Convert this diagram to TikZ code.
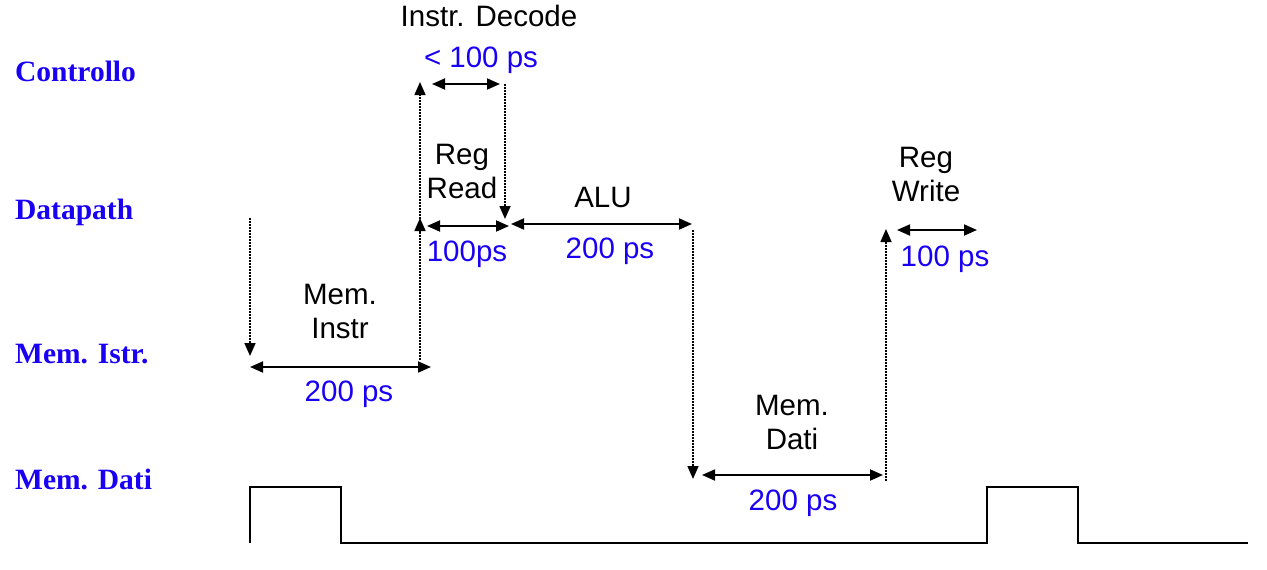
\documentclass[tikz,border=0pt]{standalone}
\usepackage{fontspec}
\setmainfont{Liberation Sans}
\newfontfamily\serifbf{Liberation Serif}
\usetikzlibrary{arrows.meta}
\definecolor{blueT}{RGB}{25,0,245}
\begin{document}
\begin{tikzpicture}[x=1pt,y=-1pt,
  lane/.style={anchor=west,inner sep=0pt,text=blueT,font=\serifbf\bfseries\fontsize{29.5}{34}\selectfont},
  lbl/.style={inner sep=0pt,align=center,font=\fontsize{29.5}{34}\selectfont},
  val/.style={lbl,text=blueT},
  dur/.style={{Triangle[length=13pt,width=11pt]}-{Triangle[length=13pt,width=11pt]},line width=1.8pt},
  guide/.style={-{Triangle[length=13pt,width=11pt]},line width=1.6pt,dash pattern=on 1.6pt off 1.4pt},
  wave/.style={line width=1.6pt}]
\useasboundingbox (0,0) rectangle (1267,570);
% lane labels
\node[lane] (lc) at (15,71) {Controllo};
\node[lane] (ld) at (15,212) {Datapath};
\node[lane] (li) at (15,354) {Mem. Istr.};
\node[lane] (lm) at (15,479) {Mem. Dati};
% coordinates
\coordinate (mi0) at (250,218);
\coordinate (mi1) at (250,356);
\coordinate (ia) at (250,367);
\coordinate (ib) at (431,367);
\coordinate (u0) at (420,360);
\coordinate (u1) at (420,82);
\coordinate (u2) at (420,218);
\coordinate (ca) at (432,84);
\coordinate (cb) at (500,84);
\coordinate (d0) at (505,84);
\coordinate (d1) at (505,219);
\coordinate (ra) at (427,226);
\coordinate (rb) at (509,226);
\coordinate (aa) at (511,224);
\coordinate (ab) at (692,224);
\coordinate (e0) at (693,230);
\coordinate (e1) at (693,479);
\coordinate (ma) at (702,475);
\coordinate (mb) at (883,475);
\coordinate (f0) at (886,481);
\coordinate (f1) at (886,229);
\coordinate (wa) at (897,230);
\coordinate (wb) at (977,230);
% texts
\node[lbl] (tdec) at (489,16) {Instr. Decode};
\node[val] (tdecv) at (481,60) {< 100 ps};
\node[lbl] (trr) at (462,171) {Reg\\Read};
\node[val] (trrv) at (467,254) {100ps};
\node[lbl] (talu) at (603,197) {ALU};
\node[val] (taluv) at (610,251) {200 ps};
\node[lbl] (tmi) at (340,311) {Mem.\\Instr};
\node[val] (tmiv) at (349,394) {200 ps};
\node[lbl] (tmd) at (792,422) {Mem.\\Dati};
\node[val] (tmdv) at (793,503) {200 ps};
\node[lbl] (trw) at (926,174) {Reg\\Write};
\node[val] (trwv) at (945,259) {100 ps};
% dotted guides
\draw[guide] (mi0) -- (mi1);
\draw[guide] (u0) -- (u1);
\draw[guide] (420,240) -- (u2);
\draw[guide] (d0) -- (d1);
\draw[guide] (e0) -- (e1);
\draw[guide] (f0) -- (f1);
% duration arrows
\draw[dur] (ia) -- (ib);
\draw[dur] (ca) -- (cb);
\draw[dur] (ra) -- (rb);
\draw[dur] (aa) -- (ab);
\draw[dur] (ma) -- (mb);
\draw[dur] (wa) -- (wb);
% clock
\draw[wave] (250,543) -- (250,487) -- (341,487) -- (341,543) -- (987,543) -- (987,487) -- (1078,487) -- (1078,543) -- (1248,543);
\end{tikzpicture}
\end{document}
